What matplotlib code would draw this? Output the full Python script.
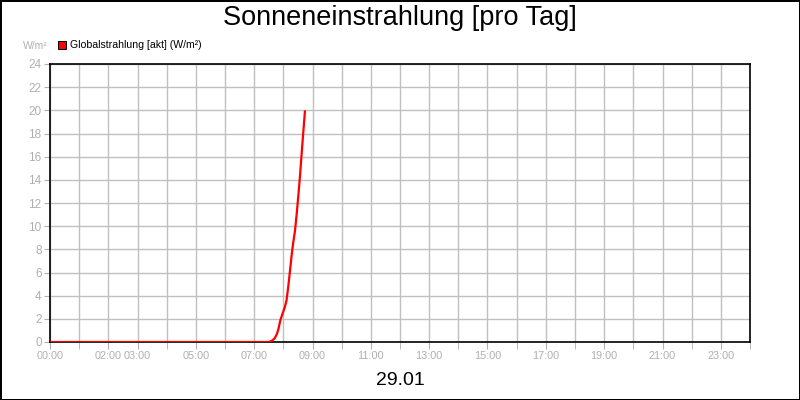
import matplotlib
matplotlib.use("Agg")
import matplotlib.pyplot as plt
import numpy as np

plt.rcParams['font.family'] = ['Liberation Sans', 'DejaVu Sans']

# hours of day and global radiation (W/m²)
hours = [0.0, 1.0, 2.0, 3.0, 4.0, 5.0, 6.0, 7.0, 7.5, 7.6, 7.7, 7.78, 7.83, 7.9,
         7.98, 8.05, 8.11, 8.17, 8.23, 8.29, 8.34, 8.4, 8.46, 8.52, 8.57, 8.65, 8.74]
radiation = [0, 0, 0, 0, 0, 0, 0, 0, 0, 0.1, 0.3, 0.7, 1.1, 1.9,
             2.5, 3.0, 3.6, 4.8, 6.2, 7.6, 8.6, 9.6, 11.1, 12.8, 14.3, 17.0, 19.9]

x_tick_pos = [0, 2, 3, 5, 7, 9, 11, 13, 15, 17, 19, 21, 23]
x_tick_labels = ['00:00', '02:00', '03:00', '05:00', '07:00', '09:00', '11:00',
                 '13:00', '15:00', '17:00', '19:00', '21:00', '23:00']
y_ticks = list(range(0, 25, 2))

fig = plt.figure(figsize=(8, 4), dpi=100)
fig.patch.set_facecolor('white')
fig.patch.set_edgecolor('black')
fig.patch.set_linewidth(2)

ax = fig.add_axes([0.0625, 0.145, 0.875, 0.695])
ax.plot(hours, radiation, color='#ff0000', lw=1.6, solid_joinstyle='round', zorder=3)

ax.set_xlim(0, 24)
ax.set_ylim(0, 24)
ax.set_xticks(x_tick_pos)
ax.set_xticklabels(x_tick_labels)
ax.set_xticks(range(0, 25), minor=True)
ax.tick_params(axis='x', which='both', length=5, color='#b0b0b0', pad=1.5,
               labelsize=7.8, labelcolor='#b0b0b0')
ax.set_yticks(y_ticks)
ax.tick_params(axis='y', length=4, color='#b0b0b0', labelsize=8.5, labelcolor='#b0b0b0', pad=2)

ax.grid(True, which='both', color='#c0c0c0', lw=1)
ax.set_axisbelow(True)
for s in ax.spines.values():
    s.set_color('black')
    s.set_linewidth(1.2)

fig.text(0.5, 0.955, 'Sonneneinstrahlung [pro Tag]', ha='center', va='center', fontsize=19.5)
fig.text(0.5, 0.048, '29.01', ha='center', va='center', fontsize=14)
fig.text(0.0285, 0.885, 'W/m²', ha='left', va='center', fontsize=7.5, color='#b0b0b0')
fig.patches.append(plt.Rectangle((0.0725, 0.878), 0.0095, 0.019, transform=fig.transFigure,
                                 facecolor='#ff0000', edgecolor='black', lw=0.7))
fig.text(0.0875, 0.888, 'Globalstrahlung [akt] (W/m²)', ha='left', va='center', fontsize=7.6)

fig.savefig('out.png', dpi=100)
